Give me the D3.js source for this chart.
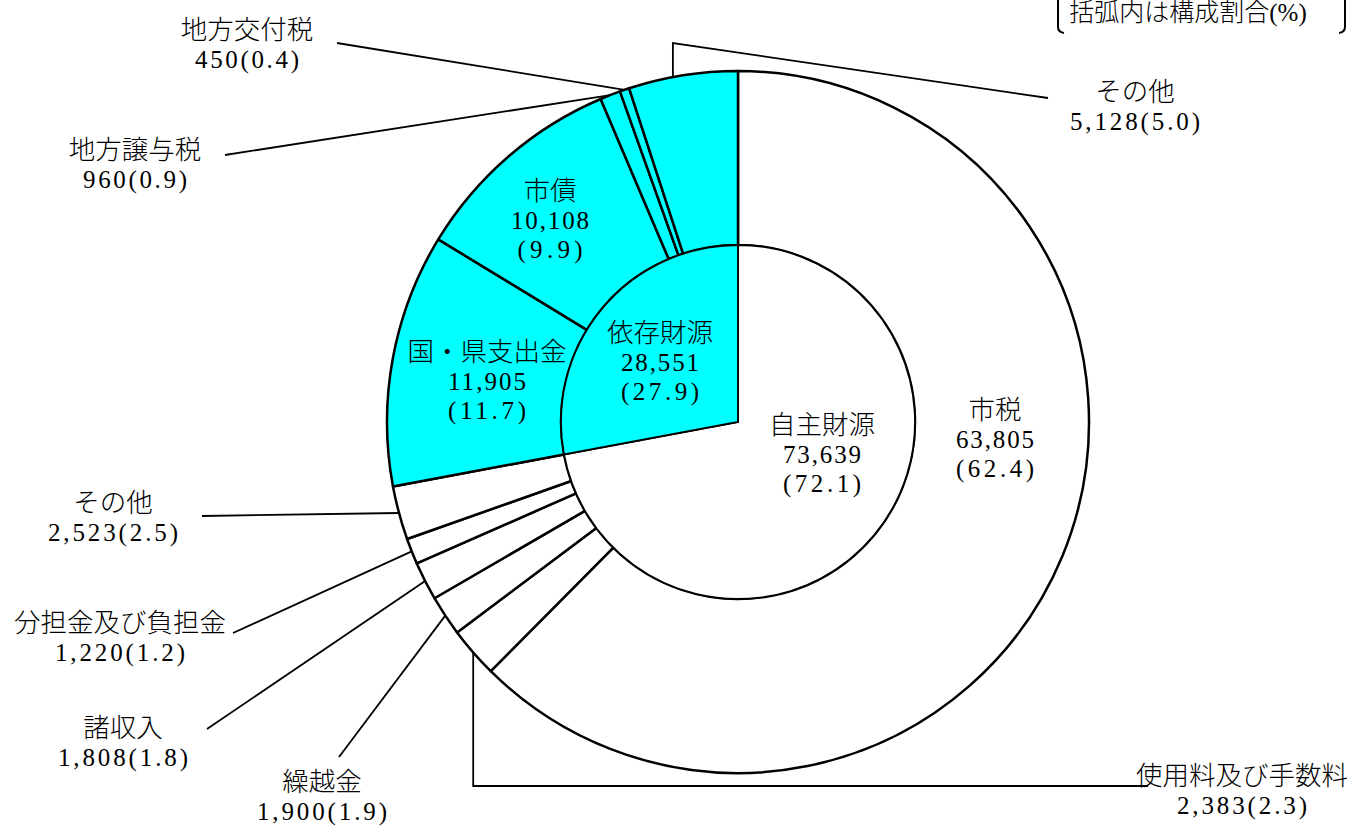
<!DOCTYPE html>
<html>
<head>
<meta charset="utf-8">
<script src="https://cdn.jsdelivr.net/npm/d3@7"></script>
<style>
body { margin: 0; background: #fff; }
text { font-family: "Liberation Serif", "Noto Sans CJK JP", serif; font-size: 25px; font-weight: 300; fill: #000; }
text.kanji { font-size: 26.5px; }
</style>
</head>
<body>
<script>
// Outer ring: items, clockwise from top
var categories = ["市税", "使用料及び手数料", "繰越金", "諸収入", "分担金及び負担金", "その他",
                  "国・県支出金", "市債", "地方譲与税", "地方交付税", "その他"];
var values = [63805, 2383, 1900, 1808, 1220, 2523, 11905, 10108, 960, 450, 5128];
var shares = [62.4, 2.3, 1.9, 1.8, 1.2, 2.5, 11.7, 9.9, 0.9, 0.4, 5.0];
var itemGroup = [0, 0, 0, 0, 0, 0, 1, 1, 1, 1, 1];

// Inner pie: groups
var groupNames = ["自主財源", "依存財源"];
var groupValues = [73639, 28551];
var groupShares = [72.1, 27.9];

var noteText = "括弧内は構成割合(%)";

// Layout
var svgWidth = 1359;
var svgHeight = 831;
var cx = 738, cy = 422;
var innerR = 177, outerR = 351;
var lineH = 29;
var digitW = 13;   // half-width advance of the original font
var groupColors = ["#ffffff", "#00ffff"];

// label placement: inside labels (in ring) and outside labels with leader start
var insideLabel = {
    0: [995, 410],
    6: [487, 352],
    7: [550, 191]
};
var outsideLabel = {
    1: { at: [1242, 776], from: [1148, 786], elbow: "down" },
    2: { at: [322, 782], from: [339, 757] },
    3: { at: [123, 728], from: [207, 729] },
    4: { at: [120, 623], from: [233, 633] },
    5: { at: [113, 503], from: [202, 516] },
    8: { at: [135, 150], from: [225, 155] },
    9: { at: [247, 30], from: [337, 43] },
    10: { at: [1135, 92], from: [1048, 98], elbow: "up", topY: 43 }
};
var groupLabel = [[822, 425], [660, 333]];

var fmtNum = d3.format(",");
var fmtPct = d3.format(".1f");

var items = categories.map(function (c, i) {
    return { name: c, value: values[i], share: shares[i], group: itemGroup[i], idx: i };
});
var groups = groupNames.map(function (g, i) {
    return { name: g, value: groupValues[i], share: groupShares[i], idx: i };
});

var svg = d3.select("body")
    .append("svg")
    .attr("width", svgWidth)
    .attr("height", svgHeight);

var chartGroup = svg.append("g")
    .attr("transform", `translate(${cx}, ${cy})`);

var pie = d3.pie().sort(null).value(d => d.value);

// Outer ring
var outerArc = d3.arc().innerRadius(innerR).outerRadius(outerR);
var edgeArc = d3.arc().innerRadius(outerR).outerRadius(outerR);
var outerData = pie(items);

chartGroup.selectAll("path.outer")
    .data(outerData)
    .enter()
    .append("path")
    .attr("class", "outer")
    .attr("d", outerArc)
    .attr("fill", d => groupColors[d.data.group])
    .attr("stroke", "#000")
    .attr("stroke-width", 2.5)
    .attr("stroke-linejoin", "round");

// Inner pie
var innerArc = d3.arc().innerRadius(0).outerRadius(innerR);
chartGroup.selectAll("path.inner")
    .data(pie(groups))
    .enter()
    .append("path")
    .attr("class", "inner")
    .attr("d", innerArc)
    .attr("fill", d => groupColors[d.data.idx])
    .attr("stroke", "#000")
    .attr("stroke-width", 1.8);

// Leader lines (page coordinates)
var leaders = svg.append("g");
outerData.forEach(function (d) {
    var o = outsideLabel[d.data.idx];
    if (!o) return;
    var p = edgeArc.centroid(d);
    var px = p[0] + cx, py = p[1] + cy;
    var pts;
    if (o.elbow === "up") {
        pts = [[px - 10, py + 1], [px - 10, o.topY], o.from];
    } else if (o.elbow === "down") {
        pts = [[px, py], [px, o.from[1]], o.from];
    } else {
        pts = [o.from, [px, py]];
    }
    leaders.append("path")
        .attr("d", d3.line()(pts))
        .attr("fill", "none")
        .attr("stroke", "#000")
        .attr("stroke-width", 1.8);
});

// Text helper: CJK lines as is, number lines spread to half-width cells
function addLabel(x, y, lines) {
    lines.forEach(function (s, i) {
        var t = svg.append("text")
            .attr("x", x)
            .attr("y", y + i * lineH)
            .attr("text-anchor", "middle")
            .attr("dominant-baseline", "central")
            .text(s);
        if (/^[0-9,.()]+$/.test(s)) {
            t.attr("textLength", s.length * digitW)
             .attr("lengthAdjust", "spacing");
        } else {
            t.attr("class", "kanji");
        }
    });
}

// Item labels
items.forEach(function (d) {
    if (insideLabel[d.idx]) {
        var a = insideLabel[d.idx];
        addLabel(a[0], a[1], [d.name, fmtNum(d.value), "(" + fmtPct(d.share) + ")"]);
    } else if (outsideLabel[d.idx]) {
        var o = outsideLabel[d.idx];
        addLabel(o.at[0], o.at[1], [d.name, fmtNum(d.value) + "(" + fmtPct(d.share) + ")"]);
    }
});

// Group labels
groups.forEach(function (g) {
    var a = groupLabel[g.idx];
    addLabel(a[0], a[1], [g.name, fmtNum(g.value), "(" + fmtPct(g.share) + ")"]);
});

// Note in the top right corner with brackets
svg.append("text")
    .attr("x", 1188)
    .attr("y", 12)
    .attr("text-anchor", "middle")
    .attr("dominant-baseline", "central")
    .text(noteText);

svg.append("path")
    .attr("d", "M1058,-2 L1058,27 Q1058,32 1064,33")
    .attr("fill", "none")
    .attr("stroke", "#000")
    .attr("stroke-width", 2);
svg.append("path")
    .attr("d", "M1345,-2 L1345,27 Q1345,32 1339,33")
    .attr("fill", "none")
    .attr("stroke", "#000")
    .attr("stroke-width", 2);
</script>
</body>
</html>
